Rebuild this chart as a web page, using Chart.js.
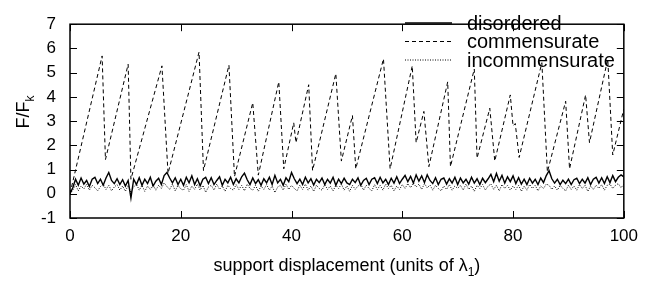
<!DOCTYPE html>
<html>
<head>
<meta charset="utf-8">
<script src="https://cdn.jsdelivr.net/npm/chart.js@4.4.0/dist/chart.umd.min.js"></script>
<style>
  html, body { margin: 0; padding: 0; background: #fff; }
  canvas { display: block; }
</style>
</head>
<body>
<canvas id="chart" width="646" height="283"></canvas>
<script>
// disordered / incommensurate sampled every 0.5 lambda_1, from 0 to 100
const disordered = [
  0.0,
  0.25, 0.6, 0.35, 0.65, 0.4, 0.55, 0.3, 0.6, 0.68, 0.42,
  0.6, 0.35, 0.65, 0.88, 0.55, 0.42, 0.62, 0.38, 0.58, 0.32,
  0.55, -0.18, 0.6, 0.38, 0.66, 0.35, 0.6, 0.42, 0.68, 0.32,
  0.52, 0.64, 0.38, 0.75, 0.88, 0.65, 0.45, 0.66, 0.38, 0.6,
  0.35, 0.68, 0.45, 0.74, 0.38, 0.62, 0.33, 0.6, 0.68, 0.42,
  0.66, 0.38, 0.55, 0.7, 0.35, 0.6, 0.45, 0.68, 0.38, 0.62,
  0.45, 0.7, 0.85, 0.58, 0.38, 0.65, 0.42, 0.58, 0.35, 0.62,
  0.45, 0.68, 0.38, 0.76, 0.45, 0.6, 0.35, 0.66, 0.5, 0.88,
  0.62, 0.42, 0.6, 0.38, 0.68, 0.45, 0.62, 0.36, 0.6, 0.46,
  0.65, 0.38, 0.6, 0.44, 0.68, 0.35, 0.6, 0.42, 0.64, 0.45,
  0.38, 0.6, 0.46, 0.66, 0.35, 0.55, 0.64, 0.38, 0.6, 0.66,
  0.42, 0.68, 0.45, 0.6, 0.38, 0.64, 0.44, 0.7, 0.42, 0.6,
  0.76, 0.5, 0.72, 0.44, 0.78, 0.52, 0.74, 0.46, 0.78, 0.55,
  0.42, 0.66, 0.38, 0.6, 0.65, 0.4, 0.62, 0.44, 0.68, 0.38,
  0.65, 0.45, 0.6, 0.4, 0.68, 0.44, 0.62, 0.38, 0.64, 0.46,
  0.62, 0.8, 0.5, 0.84, 0.52, 0.76, 0.44, 0.7, 0.5, 0.74,
  0.42, 0.66, 0.4, 0.6, 0.38, 0.64, 0.44, 0.6, 0.38, 0.65,
  0.46, 0.75, 0.95, 0.62, 0.44, 0.6, 0.38, 0.56, 0.42, 0.6,
  0.38, 0.58, 0.64, 0.42, 0.6, 0.44, 0.66, 0.38, 0.6, 0.68,
  0.44, 0.66, 0.42, 0.7, 0.46, 0.75, 0.5, 0.68, 0.78, 0.7
];
const incommensurate = [
  0.0,
  0.15, 0.38, 0.12, 0.32, 0.2, 0.4, 0.15, 0.35, 0.25, 0.12,
  0.3, 0.4, 0.18, 0.35, 0.12, 0.28, 0.38, 0.15, 0.32, 0.1,
  0.35, 0.05, 0.28, 0.4, 0.15, 0.35, 0.1, 0.32, 0.18, 0.38,
  0.15, 0.35, 0.22, 0.45, 0.3, 0.18, 0.4, 0.12, 0.35, 0.2,
  0.15, 0.38, 0.1, 0.32, 0.18, 0.4, 0.15, 0.35, 0.06, 0.28,
  0.35, 0.15, 0.4, 0.18, 0.32, 0.1, 0.35, 0.22, 0.15, 0.38,
  0.18, 0.35, 0.12, 0.4, 0.22, 0.15, 0.35, 0.1, 0.32, 0.18,
  0.38, 0.15, 0.32, 0.05, 0.28, 0.35, 0.15, 0.4, 0.18, 0.35,
  0.22, 0.12, 0.35, 0.18, 0.4, 0.15, 0.32, 0.1, 0.35, 0.22,
  0.15, 0.38, 0.18, 0.32, 0.12, 0.35, 0.22, 0.4, 0.15, 0.32,
  0.1, 0.35, 0.18, 0.32, 0.4, 0.15, 0.35, 0.22, 0.12, 0.38,
  0.18, 0.35, 0.15, 0.4, 0.22, 0.35, 0.12, 0.32, 0.18, 0.38,
  0.22, 0.42, 0.25, 0.45, 0.28, 0.4, 0.18, 0.42, 0.25, 0.36,
  0.15, 0.35, 0.22, 0.12, 0.32, 0.18, 0.38, 0.15, 0.32, 0.22,
  0.35, 0.15, 0.4, 0.18, 0.32, 0.1, 0.35, 0.22, 0.38, 0.15,
  0.32, 0.4, 0.18, 0.35, 0.12, 0.38, 0.22, 0.35, 0.15, 0.32,
  0.18, 0.35, 0.1, 0.32, 0.15, 0.38, 0.22, 0.35, 0.12, 0.32,
  0.22, 0.4, 0.35, 0.18, 0.32, 0.15, 0.35, 0.22, 0.12, 0.35,
  0.18, 0.32, 0.15, 0.38, 0.22, 0.35, 0.1, 0.32, 0.18, 0.35,
  0.22, 0.38, 0.15, 0.35, 0.4, 0.22, 0.35, 0.42, 0.25, 0.4
];
// commensurate: stick-slip sawtooth, corners only
const commX = [0, 5.8, 6.4, 10.5, 11.0, 16.6, 17.7, 23.3, 24.1, 28.7, 29.7, 33.0, 34.0,
  37.7, 38.6, 40.4, 40.8, 43.1, 43.8, 48.0, 49.0, 51.0, 51.6, 56.6, 57.8, 61.8, 62.5,
  63.9, 64.8, 68.2, 68.7, 73.0, 73.5, 75.8, 76.7, 79.5, 80.0, 80.4, 81.1, 85.2, 86.2,
  89.5, 90.2, 93.1, 93.8, 97.1, 98.0, 100];
const commY = [0, 5.69, 1.41, 5.35, 0.6, 5.28, 0.84, 5.85, 0.96, 5.31, 0.71, 3.76, 0.77,
  4.62, 1.03, 2.93, 2.11, 4.5, 0.96, 4.96, 1.35, 3.23, 1.03, 5.57, 1.03, 5.28, 2.11,
  3.4, 1.12, 4.62, 1.12, 5.15, 1.47, 3.53, 1.35, 4.08, 2.8, 2.9, 1.5, 5.41, 0.9,
  3.82, 1.03, 4.08, 2.11, 5.56, 1.6, 3.5];

const seriesNames = ["disordered", "commensurate", "incommensurate"];
const xTicks = [0, 20, 40, 60, 80, 100];
const yTicks = [-1, 0, 1, 2, 3, 4, 5, 6, 7];

const displacement = disordered.map((_, i) => i * 0.5);
const FONT = "'Liberation Sans', Arial, Helvetica, sans-serif";

const frame = {
  id: "frame",
  afterDraw(chart) {
    const { ctx, chartArea: a, scales } = chart;
    ctx.save();
    ctx.strokeStyle = "#000";
    ctx.lineWidth = 1.5;
    ctx.setLineDash([]);
    ctx.strokeRect(a.left, a.top, a.right - a.left, a.bottom - a.top);
    // inward ticks on all four sides
    ctx.lineWidth = 1;
    ctx.beginPath();
    xTicks.forEach(v => {
      const px = Math.round(scales.x.getPixelForValue(v)) + 0.5;
      ctx.moveTo(px, a.bottom); ctx.lineTo(px, a.bottom - 7);
      ctx.moveTo(px, a.top); ctx.lineTo(px, a.top + 7);
    });
    yTicks.forEach(v => {
      const py = Math.round(scales.y.getPixelForValue(v)) + 0.5;
      ctx.moveTo(a.left, py); ctx.lineTo(a.left + 7, py);
      ctx.moveTo(a.right, py); ctx.lineTo(a.right - 7, py);
    });
    ctx.stroke();

    // key
    const rows = [23, 41.5, 60];
    ctx.font = "20px " + FONT;
    ctx.fillStyle = "#000";
    ctx.textBaseline = "middle";
    ctx.textAlign = "left";
    chart.data.datasets.forEach((ds, i) => {
      ctx.save();
      ctx.strokeStyle = ds.borderColor;
      ctx.lineWidth = ds.borderWidth;
      ctx.setLineDash(ds.borderDash || []);
      ctx.beginPath();
      ctx.moveTo(405, rows[i]); ctx.lineTo(452, rows[i]);
      ctx.stroke();
      ctx.restore();
      ctx.fillText(ds.label, 467, rows[i] + 1);
    });

    // x title with subscript
    ctx.textBaseline = "alphabetic";
    const main = "support displacement (units of \u03bb";
    ctx.font = "18px " + FONT;
    const w1 = ctx.measureText(main).width;
    ctx.font = "12px " + FONT;
    const w2 = ctx.measureText("1").width;
    ctx.font = "18px " + FONT;
    const w3 = ctx.measureText(")").width;
    let x0 = (a.left + a.right) / 2 - (w1 + w2 + w3) / 2;
    const base = 271;
    ctx.fillText(main, x0, base);
    ctx.font = "12px " + FONT;
    ctx.fillText("1", x0 + w1, base + 5);
    ctx.font = "18px " + FONT;
    ctx.fillText(")", x0 + w1 + w2, base);

    // y title with subscript
    ctx.translate(29, 112);
    ctx.rotate(-Math.PI / 2);
    ctx.font = "18px " + FONT;
    const f1 = ctx.measureText("F/F").width;
    ctx.font = "12px " + FONT;
    const f2 = ctx.measureText("k").width;
    const s0 = -(f1 + f2) / 2;
    ctx.font = "18px " + FONT;
    ctx.fillText("F/F", s0, 0);
    ctx.font = "12px " + FONT;
    ctx.fillText("k", s0 + f1, 5);
    ctx.restore();
  }
};

new Chart(document.getElementById("chart"), {
  type: "line",
  data: {
    labels: displacement,
    datasets: [
      {
        label: seriesNames[0],
        data: disordered,
        borderColor: "#000",
        borderWidth: 1.4,
        pointRadius: 0,
        tension: 0
      },
      {
        label: seriesNames[1],
        data: commX.map((x, i) => ({ x: x, y: commY[i] })),
        borderColor: "#000",
        borderWidth: 1,
        borderDash: [4, 3],
        pointRadius: 0,
        tension: 0
      },
      {
        label: seriesNames[2],
        data: incommensurate,
        borderColor: "#000",
        borderWidth: 1,
        borderDash: [1, 1.5],
        pointRadius: 0,
        tension: 0
      }
    ]
  },
  options: {
    responsive: false,
    animation: false,
    layout: { padding: { top: 8, right: 20, left: 0, bottom: 0 } },
    plugins: { legend: { display: false }, tooltip: { enabled: false } },
    scales: {
      x: {
        type: "linear",
        min: 0,
        max: 100,
        afterFit(scale) { scale.height = 65; },
        afterBuildTicks(scale) { scale.ticks = xTicks.map(v => ({ value: v })); },
        grid: { display: false, drawTicks: false },
        border: { display: false },
        ticks: { color: "#000", font: { family: FONT, size: 17 }, padding: 8, maxRotation: 0 }
      },
      y: {
        type: "linear",
        min: -1,
        max: 7,
        afterFit(scale) { scale.width = 70; },
        afterBuildTicks(scale) { scale.ticks = yTicks.map(v => ({ value: v })); },
        grid: { display: false, drawTicks: false },
        border: { display: false },
        ticks: { color: "#000", font: { family: FONT, size: 17 }, padding: 14 }
      }
    }
  },
  plugins: [frame]
});
</script>
</body>
</html>
